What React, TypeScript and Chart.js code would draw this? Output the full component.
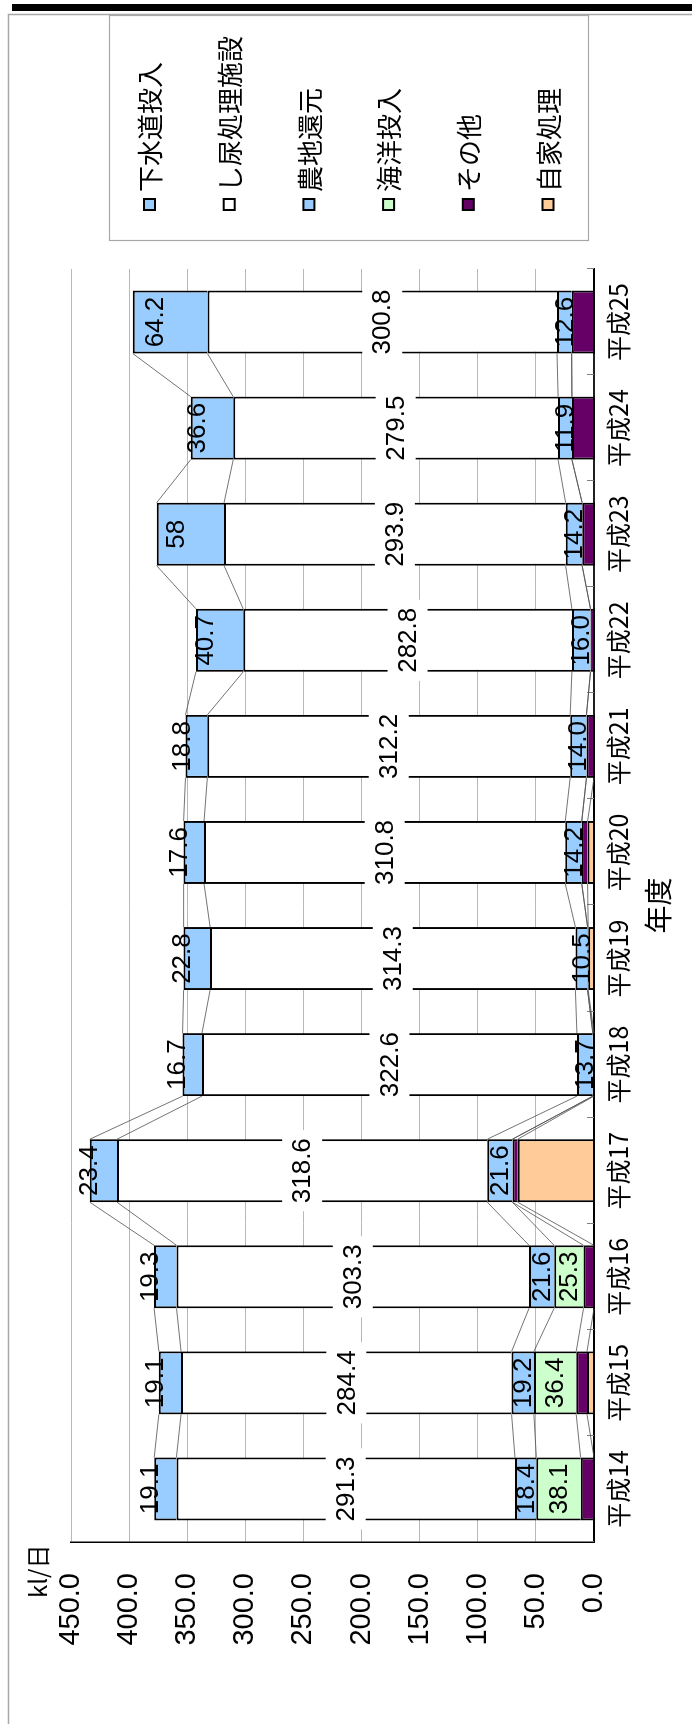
import React, { useEffect, useRef } from 'react';
import { Chart, registerables } from 'chart.js';

Chart.register(...registerables);

// ---- data ----
const years = ['平成14', '平成15', '平成16', '平成17', '平成18', '平成19', '平成20', '平成21', '平成22', '平成23', '平成24', '平成25'];
const sewage = [19.1, 19.1, 19.3, 23.4, 16.7, 22.8, 17.6, 18.8, 40.7, 58, 36.6, 64.2];
const nightSoil = [291.3, 284.4, 303.3, 318.6, 322.6, 314.3, 310.8, 312.2, 282.8, 293.9, 279.5, 300.8];
const farmland = [18.4, 19.2, 21.6, 21.6, 13.7, 10.5, 14.2, 14.0, 16.0, 14.2, 11.9, 12.6];
const ocean = [38.1, 36.4, 25.3, 0, 0, 0, 0, 0, 0, 0, 0, 0];
const other = [11.5, 9.3, 9.0, 4.5, 1.0, 0.5, 5.0, 6.5, 3.0, 10.2, 19.0, 19.2];
const selfTreat = [0, 6.0, 0, 65.7, 0, 5.0, 5.5, 0, 0, 0, 0, 0];
const seriesNames = ['下水道投入', 'し尿処理施設', '農地還元', '海洋投入', 'その他', '自家処理'];
const valueTicks = [0, 50, 100, 150, 200, 250, 300, 350, 400, 450];
const unitLabel = 'kl/日';
const axisTitle = '年度';

// ---- layout (original, unrotated orientation) ----
const W = 1724;
const H = 692;
const NARROW = "'Liberation Sans Narrow', 'Arial Narrow', 'Liberation Sans', Arial, sans-serif";
const CJK = "'Noto Sans CJK JP', 'Noto Sans', sans-serif";

const colors = {
  sewage: '#99CCFF',
  nightSoil: '#FFFFFF',
  farmland: '#99CCFF',
  ocean: '#CCFFCC',
  other: '#660066',
  selfTreat: '#FFCC99',
};

// label modes per dataset index (stack bottom -> top)
const labelModes: Record<number, string> = { 2: 'center', 3: 'center', 4: 'box', 5: 'top' };

const fmt = (v: number, mode: string) =>
  mode === 'top' && Number.isInteger(v) ? String(v) : v.toFixed(1);

const framePlugin = {
  id: 'frame',
  beforeDraw(chart: any) {
    const ctx = chart.ctx;
    ctx.save();
    ctx.fillStyle = '#ffffff';
    ctx.fillRect(0, 0, W, H);
    ctx.strokeStyle = '#a8a8a8';
    ctx.lineWidth = 1.5;
    ctx.beginPath();
    ctx.moveTo(0, 8.5);
    ctx.lineTo(1709.5, 8.5);
    ctx.lineTo(1709.5, H);
    ctx.stroke();
    ctx.fillStyle = '#000000';
    ctx.fillRect(1713, 12, 7, H - 12);
    ctx.restore();
  },
};

const seriesLinesPlugin = {
  id: 'seriesLines',
  beforeDatasetsDraw(chart: any) {
    const ctx = chart.ctx;
    const area = chart.chartArea;
    ctx.save();
    // category ticks pointing into the plot
    const n = chart.data.labels.length;
    const cw = (area.right - area.left) / n;
    ctx.strokeStyle = '#808080';
    ctx.lineWidth = 1;
    for (let i = 0; i <= n; i++) {
      const x = Math.round(area.left + i * cw) + 0.5;
      ctx.beginPath();
      ctx.moveTo(x, area.bottom);
      ctx.lineTo(x, area.bottom - 7);
      ctx.stroke();
    }
    // series lines
    ctx.strokeStyle = '#505050';
    ctx.lineWidth = 0.8;
    chart.data.datasets.forEach((_ds: any, k: number) => {
      const meta = chart.getDatasetMeta(k);
      for (let i = 0; i < meta.data.length - 1; i++) {
        const a = meta.data[i];
        const b = meta.data[i + 1];
        ctx.beginPath();
        ctx.moveTo(a.x + a.width / 2, a.y);
        ctx.lineTo(b.x - b.width / 2, b.y);
        ctx.stroke();
      }
    });
    ctx.restore();
  },
};

const labelsPlugin = {
  id: 'valueLabels',
  afterDatasetsDraw(chart: any) {
    const ctx = chart.ctx;
    ctx.save();
    ctx.font = `26px ${NARROW}`;
    ctx.textAlign = 'center';
    ctx.textBaseline = 'middle';
    chart.data.datasets.forEach((ds: any, k: number) => {
      const mode = labelModes[k];
      if (!mode) return;
      const meta = chart.getDatasetMeta(k);
      meta.data.forEach((el: any, i: number) => {
        const v = ds.data[i];
        if (!v) return;
        const { x, y, base } = el.getProps(['x', 'y', 'base'], true);
        const seg = base - y;
        let cy = (y + base) / 2;
        if (mode === 'top') cy = y + seg / 2 - 15;
        const text = fmt(v, mode);
        if (mode === 'box') {
          const tw = ctx.measureText(text).width;
          ctx.fillStyle = '#ffffff';
          ctx.fillRect(x - tw / 2 - 8, cy - 20, tw + 16, 40);
        }
        ctx.fillStyle = '#000000';
        ctx.fillText(text, x, cy + 1);
      });
    });
    ctx.restore();
  },
};

const legendPlugin = {
  id: 'boxLegend',
  afterDraw(chart: any) {
    const ctx = chart.ctx;
    ctx.save();
    ctx.strokeStyle = '#a8a8a8';
    ctx.lineWidth = 1.2;
    ctx.strokeRect(1483.5, 109.5, 225, 479);
    const dsList = chart.data.datasets.slice().reverse();
    ctx.font = `26px ${CJK}`;
    ctx.textAlign = 'left';
    ctx.textBaseline = 'middle';
    dsList.forEach((ds: any, j: number) => {
      const cy = 149.5 + 79.7 * j;
      ctx.fillStyle = ds.backgroundColor;
      ctx.lineWidth = 2;
      ctx.strokeStyle = '#000000';
      ctx.fillRect(1514, cy - 5.5, 11, 11);
      ctx.strokeRect(1514, cy - 5.5, 11, 11);
      ctx.fillStyle = '#000000';
      ctx.fillText(ds.label, 1532, cy + 1);
    });
    // unit label
    ctx.font = `24px ${CJK}`;
    ctx.fillText(unitLabel, 126, 38);
    ctx.restore();
  },
};

function buildConfig(): any {
  const mk = (label: string, data: number[], color: string) => ({
    label,
    data,
    backgroundColor: color,
    borderColor: '#000000',
    borderWidth: 2,
    stack: 's',
  });
  return {
    type: 'bar',
    data: {
      labels: years,
      datasets: [
        mk(seriesNames[5], selfTreat, colors.selfTreat),
        mk(seriesNames[4], other, colors.other),
        mk(seriesNames[3], ocean, colors.ocean),
        mk(seriesNames[2], farmland, colors.farmland),
        mk(seriesNames[1], nightSoil, colors.nightSoil),
        mk(seriesNames[0], sewage, colors.sewage),
      ],
    },
    options: {
      responsive: false,
      animation: false,
      devicePixelRatio: 1,
      layout: { padding: { left: 0, right: 269, top: 71, bottom: 0 } },
      plugins: { legend: { display: false }, tooltip: { enabled: false } },
      datasets: { bar: { barPercentage: 0.594, categoryPercentage: 1 } },
      scales: {
        x: {
          stacked: true,
          grid: { display: false, drawTicks: false },
          border: { display: true, color: '#000000', width: 2 },
          ticks: {
            color: '#000000',
            font: { family: CJK, size: 25 },
            padding: 9,
            maxRotation: 0,
            autoSkip: false,
          },
          title: {
            display: true,
            text: axisTitle,
            color: '#000000',
            font: { family: CJK, size: 28 },
            padding: { top: 0, bottom: 17 },
          },
          afterFit(scale: any) {
            scale.height = 98;
          },
        },
        y: {
          stacked: true,
          min: valueTicks[0],
          max: valueTicks[valueTicks.length - 1],
          grid: {
            drawTicks: false,
            color: (c: any) => (c.tick && c.tick.value === 0 ? '#000000' : '#b8b8b8'),
            lineWidth: (c: any) => (c.tick && c.tick.value === 0 ? 2 : 1),
          },
          border: { display: true, color: '#000000', width: 1.5 },
          afterBuildTicks(scale: any) {
            scale.ticks = valueTicks.map((v) => ({ value: v }));
          },
          ticks: {
            color: '#000000',
            font: { family: NARROW, size: 29 },
            padding: 31,
            callback: (v: any) => Number(v).toFixed(1),
          },
          afterFit(scale: any) {
            scale.width = 182;
          },
        },
      },
    },
    plugins: [framePlugin, seriesLinesPlugin, labelsPlugin, legendPlugin],
  };
}

export default function App() {
  const ref = useRef<HTMLCanvasElement>(null);
  useEffect(() => {
    if (!ref.current) return;
    const chart = new Chart(ref.current, buildConfig());
    return () => chart.destroy();
  }, []);
  return (
    <div
      style={{
        position: 'fixed',
        left: 0,
        top: 0,
        width: W,
        height: H,
        transformOrigin: '0 0',
        transform: `translateY(${W}px) rotate(-90deg)`,
        background: '#ffffff',
      }}
    >
      <canvas ref={ref} width={W} height={H} style={{ width: W, height: H, display: 'block' }} />
    </div>
  );
}
